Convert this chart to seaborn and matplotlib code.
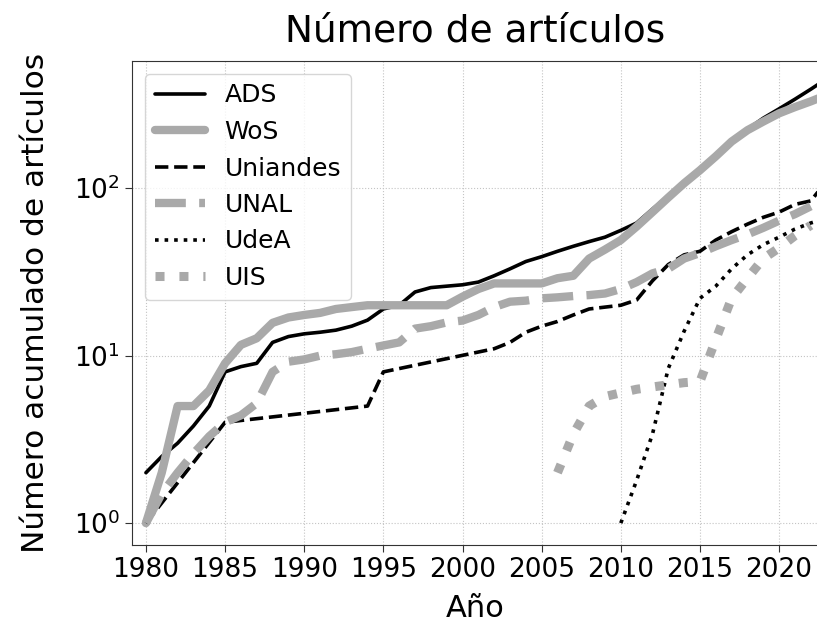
import matplotlib
matplotlib.use("Agg")
import matplotlib.pyplot as plt
import seaborn as sns
from matplotlib.ticker import NullLocator, LogLocator, FixedLocator


# cumulative counts
ads_years = list(range(1980, 2024))
ads = [2, 2.5, 3, 3.8, 5,
       8, 8.6, 9, 12, 13,
       13.5, 13.8, 14.2, 15, 16.3,
       19, 20, 24, 25.5, 26,
       26.5, 27.5, 30, 33, 36.5,
       39, 42, 45, 48, 51,
       56, 62, 75, 90, 108,
       130, 155, 188, 225, 262,
       298, 340, 390, 450]

wos_years = list(range(1980, 2024))
wos = [1, 2, 5, 5, 6.2,
       9, 11.6, 12.7, 15.7, 16.9,
       17.5, 18, 19, 19.5, 20,
       20, 20, 20, 20, 20,
       22.5, 25, 27, 27, 27,
       27, 29, 30, 38, 43,
       49, 59, 72, 88, 107,
       128, 155, 190, 222, 250,
       280, 305, 330, 360]

uniandes_years = [1980, 1985, 1994, 1995, 2002, 2003, 2004, 2005, 2006, 2007,
                  2008, 2010, 2011, 2012, 2013, 2014, 2015, 2016, 2017, 2018,
                  2019, 2020, 2021, 2022, 2023]
uniandes = [1, 4, 5, 8, 11, 12, 13.8, 15, 16, 17.5,
            19, 20, 21.5, 28, 35, 40, 42, 49, 55, 61,
            67, 72, 80, 84, 110]

unal_years = list(range(1980, 2023))
unal = [1, 1.5, 2, 2.6, 3.3,
        4, 4.4, 5.2, 8, 9.2,
        9.5, 10, 10.2, 10.5, 11,
        11.5, 12, 14.5, 15, 15.8,
        16.2, 17.5, 19.5, 21, 21.3,
        22, 22.3, 22.7, 23, 23.5,
        25, 27.5, 31, 33, 38,
        41, 45, 49, 53, 58,
        64, 70, 78]

udea_years = list(range(2010, 2024))
udea = [1, 1.8, 3.4, 8.4, 14, 22, 26, 33, 40, 46, 51, 57, 62, 66]

uis_years = list(range(2006, 2023))
uis = [2, 3.4, 5, 5.7, 6, 6.3, 6.5, 6.7, 6.9, 7, 12.5, 22, 29, 38, 44, 52, 60]

GRAY = "darkgray"


def main():
    sns.set_style("white")
    plt.rcParams["font.family"] = ["DejaVu Sans"]
    plt.rcParams["text.color"] = "black"
    plt.rcParams["axes.labelcolor"] = "black"
    plt.rcParams["xtick.color"] = "black"
    plt.rcParams["ytick.color"] = "black"

    fig = plt.figure(figsize=(8.17, 6.37), dpi=100)
    ax = fig.add_axes([132 / 817, 92 / 637, 687 / 817, 484 / 637])

    series = [
        ("ADS", ads_years, ads, "black", "-", 2.6),
        ("WoS", wos_years, wos, GRAY, "-", 6),
        ("Uniandes", uniandes_years, uniandes, "black", "--", 2.6),
        ("UNAL", unal_years, unal, GRAY, "--", 6),
        ("UdeA", udea_years, udea, "black", ":", 2.6),
        ("UIS", uis_years, uis, GRAY, ":", 6.5),
    ]
    for name, x, y, color, ls, lw in series:
        sns.lineplot(x=x, y=y, ax=ax, color=color, linestyle=ls,
                     linewidth=lw, label=name)

    ax.set_yscale("log")
    ax.set_xlim(1979.12, 2022.52)
    ax.set_ylim(0.74, 575)
    ax.xaxis.set_major_locator(FixedLocator(range(1980, 2025, 5)))
    ax.yaxis.set_major_locator(LogLocator(base=10))
    ax.yaxis.set_minor_locator(NullLocator())

    ax.grid(True, linestyle=":", color="#c4c4c4", linewidth=0.8)
    for s in ax.spines.values():
        s.set_color("#333333")
    ax.tick_params(axis="both", labelsize=19, length=5, color="#333333",
                   bottom=True, left=True)

    ax.set_xlabel("Año", fontsize=22, labelpad=8)
    ax.set_ylabel("Número acumulado de artículos", fontsize=22.5, labelpad=17)
    ax.set_title("Número de artículos", fontsize=27, pad=14)

    leg = ax.legend(loc="upper left", fontsize=18, frameon=True)
    leg.get_frame().set_edgecolor("#cccccc")

    fig.savefig("out.png", dpi=100)
    plt.close(fig)


if __name__ == "__main__":
    main()
